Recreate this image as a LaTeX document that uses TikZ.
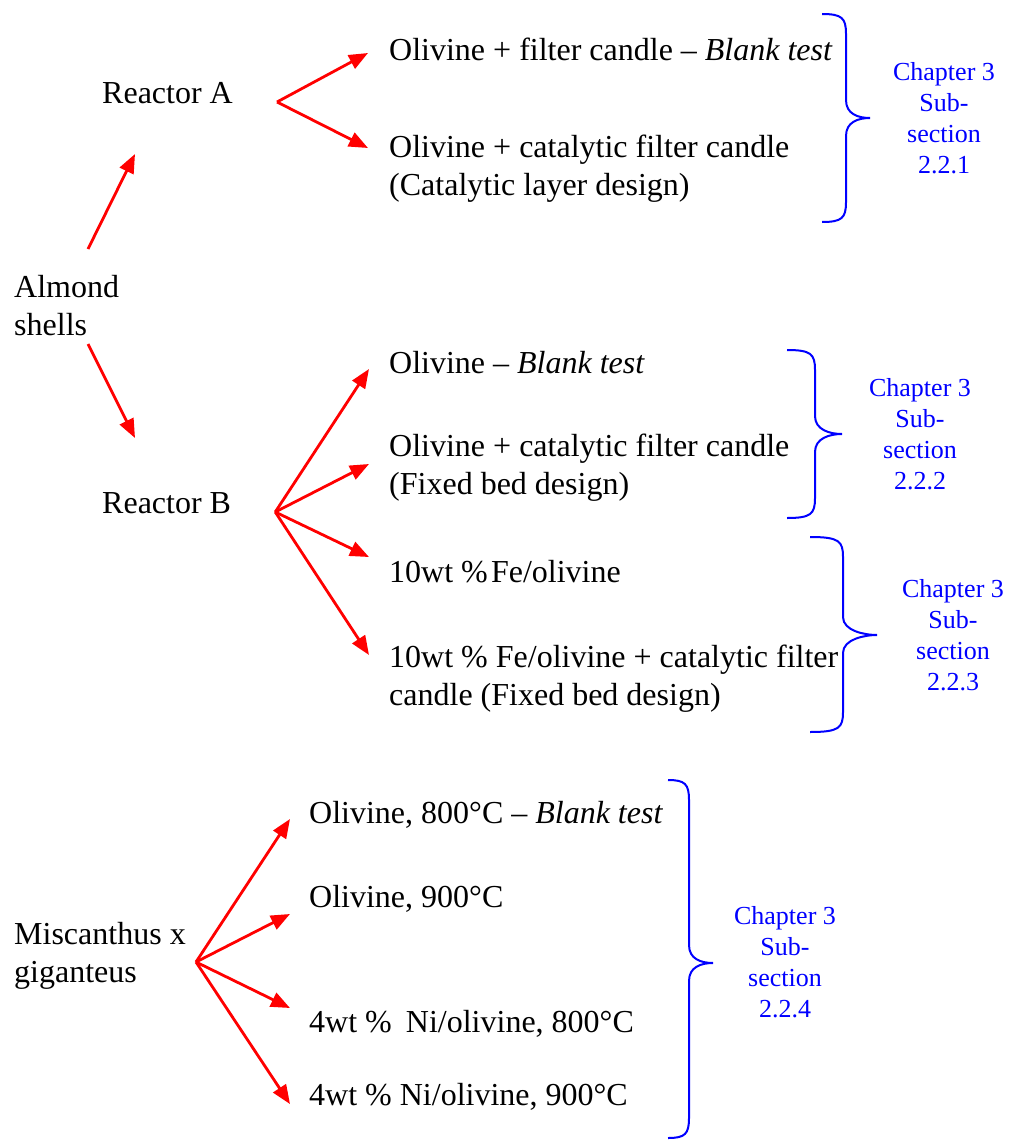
\documentclass[tikz,border=0pt]{standalone}
\usepackage{fontspec}
\setmainfont{Liberation Serif}
\usepackage{tikz}
\usetikzlibrary{arrows.meta, positioning, calc}
\definecolor{feedred}{RGB}{255,0,0}
\definecolor{refblue}{RGB}{0,0,255}

% curly brace: x-left, x-stem, x-tip, y-top, y-tip, y-bottom
\newcommand{\chapbrace}[6]{%
  \draw[brace] (#1,#4) .. controls (#2-4,#4) and (#2,#4+4) .. (#2,#4+20)
    -- (#2,#5-18) .. controls (#2,#5-4) and (#3-12,#5) .. (#3,#5)
    .. controls (#3-12,#5) and (#2,#5+4) .. (#2,#5+18)
    -- (#2,#6-20) .. controls (#2,#6-4) and (#2-4,#6) .. (#1,#6);}

\begin{document}
\begin{tikzpicture}[
  x=1pt, y=-1pt,
  item/.style={
    inner sep=0pt, anchor=base west, align=left,
    font=\fontsize{32}{38}\selectfont,
  },
  ref/.style={
    inner sep=0pt, anchor=base, align=center, text=refblue,
    font=\fontsize{26}{30.7}\selectfont,
  },
  feed/.style={-{Triangle[length=19pt,width=15pt]}, line width=2.8pt, feedred},
  brace/.style={line width=2pt, refblue},
]
  \useasboundingbox (0,0) rectangle (1009,1140);

  % Almond shells
  \node[item] (alm) at (14,335) {Almond\\shells};
  \node[item] (ra) at (102,103) {Reactor A};
  \node[item] (rb) at (102,513) {Reactor B};

  \node[item] (oa1) at (389,60) {Olivine + filter candle -- \textit{Blank test}};
  \node[item] (oa2) at (389,195) {Olivine + catalytic filter candle\\(Catalytic layer design)};

  \node[item] (ob1) at (389,373) {Olivine -- \textit{Blank test}};
  \node[item] (ob2) at (389,494) {Olivine + catalytic filter candle\\(Fixed bed design)};
  \node[item] (ob3) at (389,582) {10wt \%\hspace{0.1em}Fe/olivine};
  \node[item] (ob4) at (389,705) {10wt \% Fe/olivine + catalytic filter\\candle (Fixed bed design)};

  % Miscanthus
  \node[item] (mg) at (14,982) {Miscanthus x\\giganteus};
  \node[item] (om1) at (309,823) {Olivine, 800°C -- \textit{Blank test}};
  \node[item] (om2) at (309,907) {Olivine, 900°C};
  \node[item] (om3) at (309,1032) {4wt \%\hspace{0.44em}Ni/olivine, 800°C};
  \node[item] (om4) at (309,1105) {4wt \% Ni/olivine, 900°C};

  % Arrows
  \draw[feed] ($(alm.base west)+(74,-86)$) -- ($(ra.base west)+(33,51)$);
  \draw[feed] ($(alm.base west)+(74,9)$) -- ($(rb.base west)+(33,-75)$);

  \coordinate (fa) at ($(ra.base east)+(44,-1)$);
  \draw[feed] (fa) -- ($(oa1.base west)+(-21,-7)$);
  \draw[feed] (fa) -- ($(oa2.base west)+(-21,-47)$);

  \coordinate (fb) at ($(rb.base east)+(44,-1)$);
  \draw[feed] (fb) -- ($(ob1.base west)+(-20,-4)$);
  \draw[feed] (fb) -- ($(ob2.base west)+(-20,-30)$);
  \draw[feed] (fb) -- ($(ob3.base west)+(-20,-25)$);
  \draw[feed] (fb) -- ($(ob4.base west)+(-20,-50)$);

  \coordinate (fm) at ($(mg.base west)+(182,-20)$);
  \draw[feed] (fm) -- ($(om1.base west)+(-19,-4)$);
  \draw[feed] (fm) -- ($(om2.base west)+(-19,7)$);
  \draw[feed] (fm) -- ($(om3.base west)+(-19,-24)$);
  \draw[feed] (fm) -- ($(om4.base west)+(-19,-1)$);

  % Braces and chapter references
  \chapbrace{822}{846}{870}{14}{118}{222}
  \chapbrace{787}{815}{842}{350}{434}{518}
  \chapbrace{810}{843}{877}{537}{635}{732}
  \chapbrace{668}{689}{713}{780}{963}{1138}

  \node[ref] (c1) at (944,173) {Chapter 3\\Sub-\\section\\2.2.1};
  \node[ref] (c2) at (920,489) {Chapter 3\\Sub-\\section\\2.2.2};
  \node[ref] (c3) at (953,690) {Chapter 3\\Sub-\\section\\2.2.3};
  \node[ref] (c4) at (785,1017) {Chapter 3\\Sub-\\section\\2.2.4};
\end{tikzpicture}
\end{document}
